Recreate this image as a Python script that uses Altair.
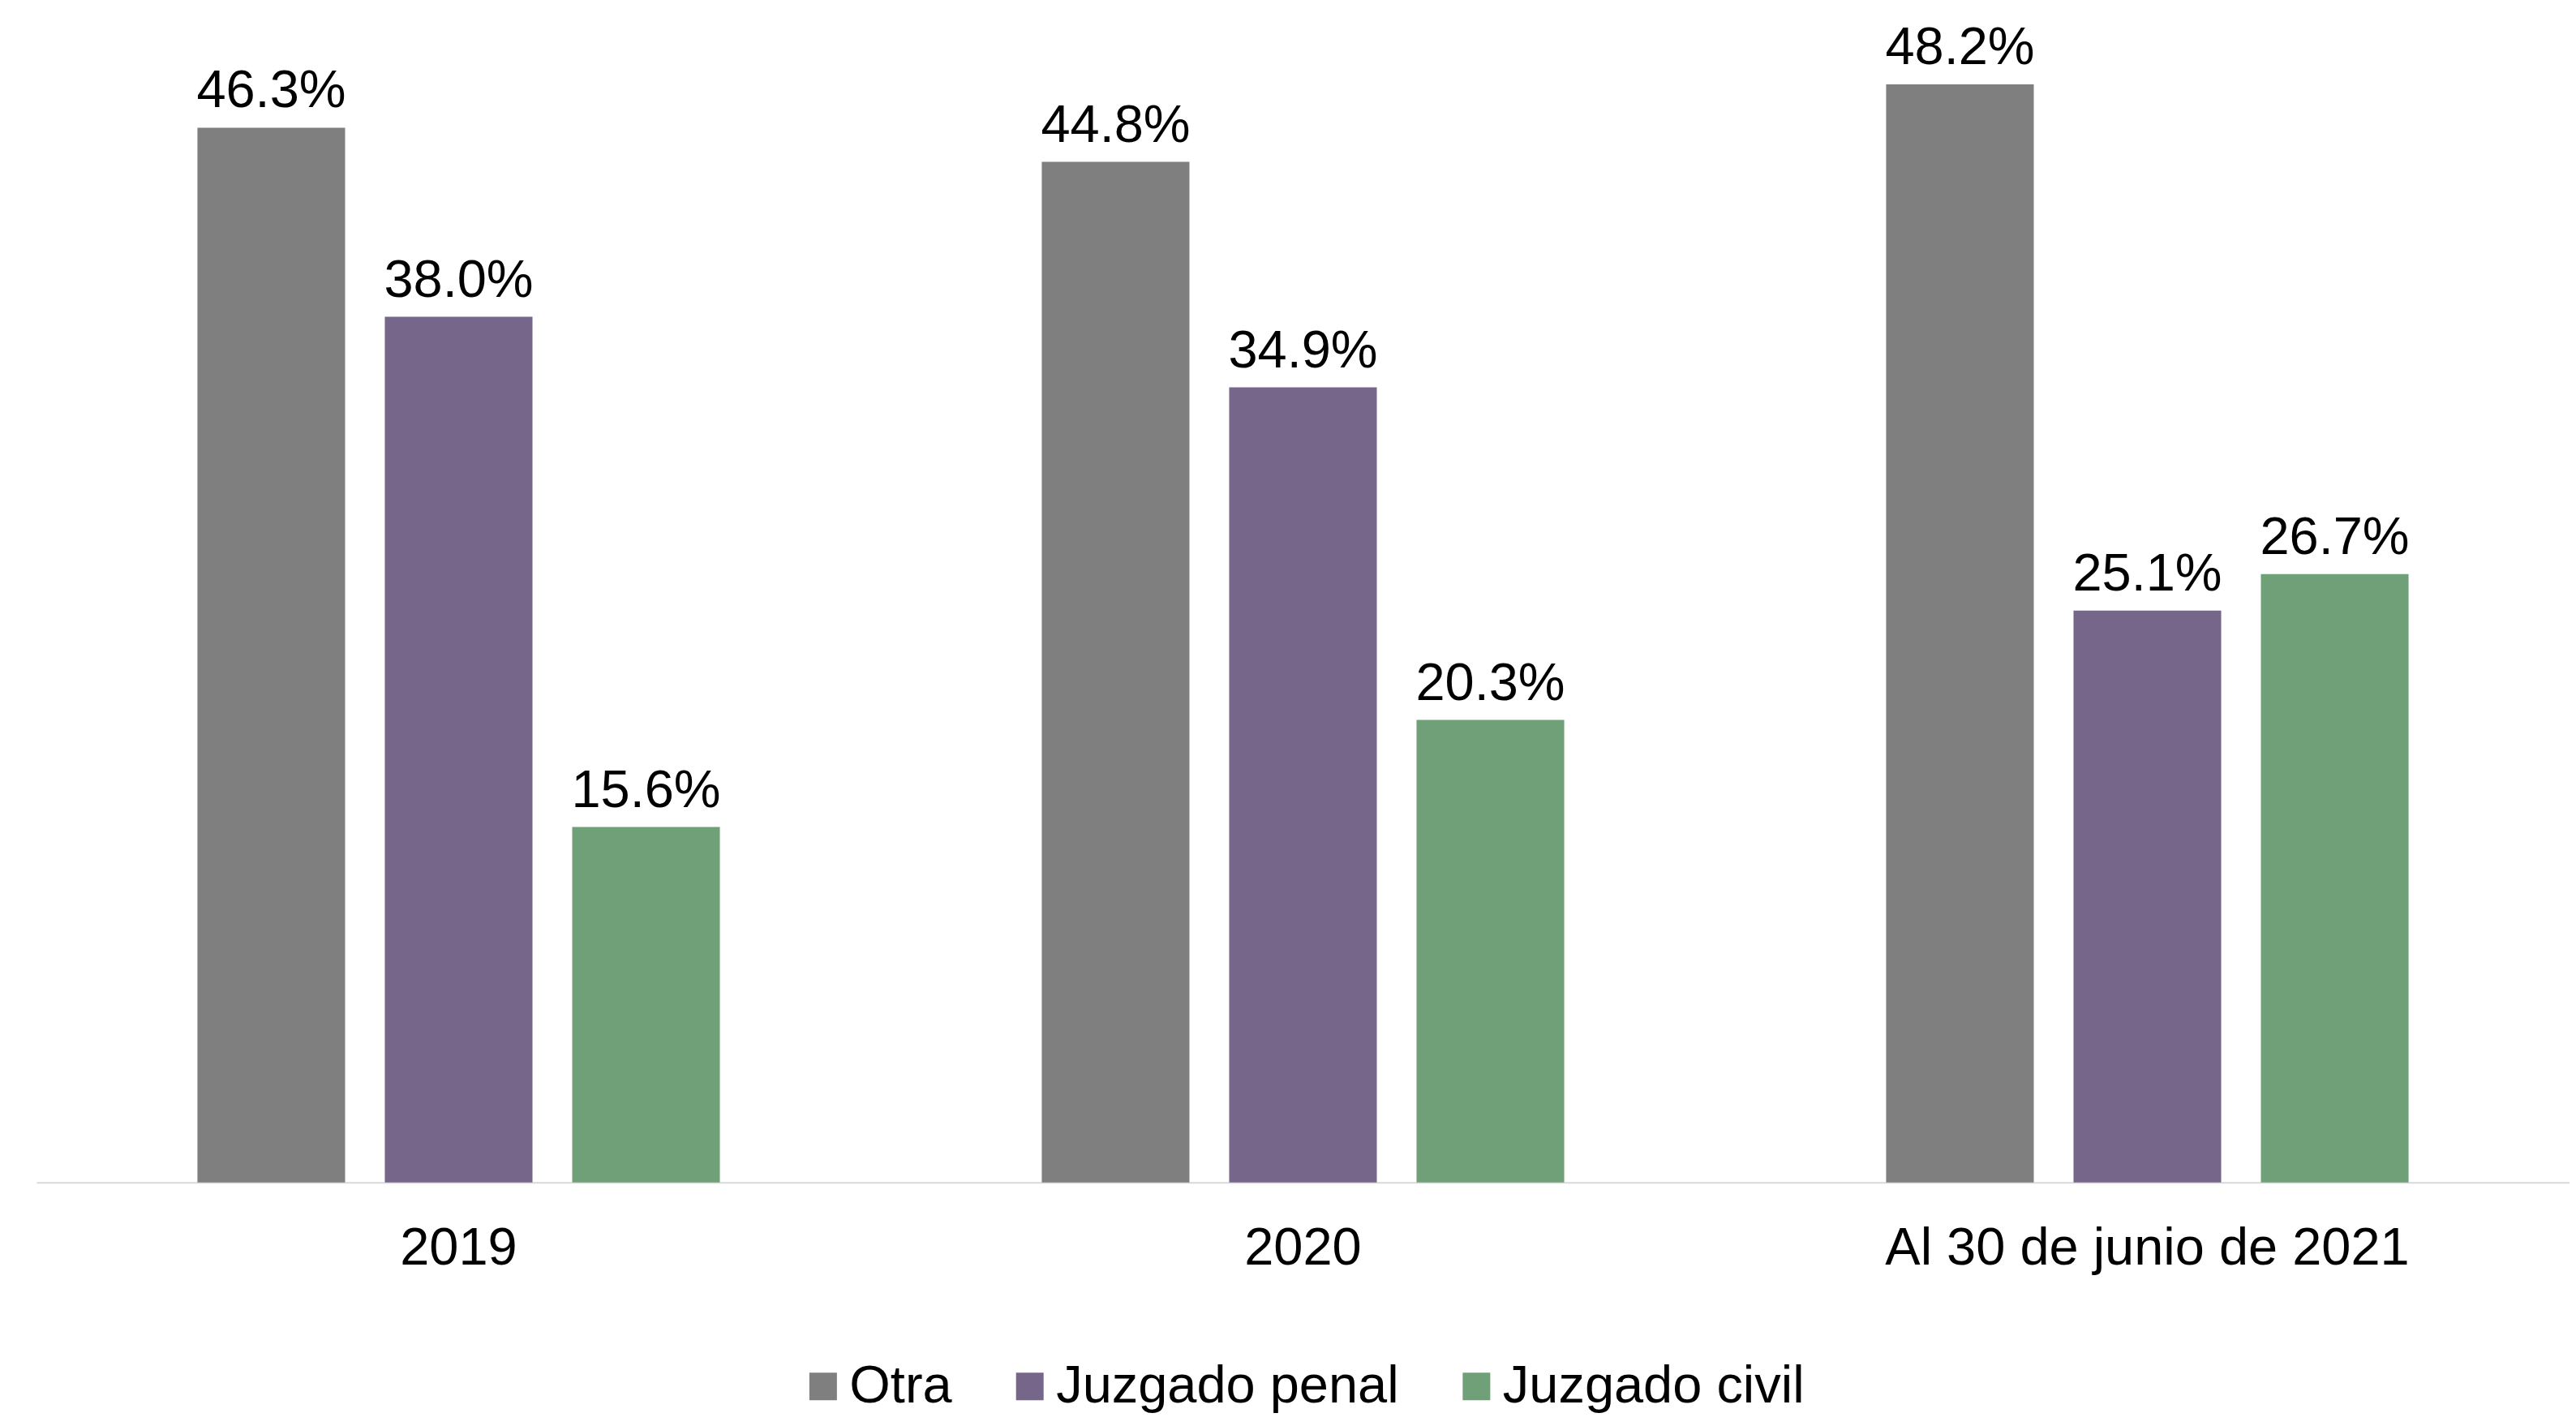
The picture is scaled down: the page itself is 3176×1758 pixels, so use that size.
import altair as alt
import pandas as pd

periods = ["2019", "2020", "Al 30 de junio de 2021"]
series = ["Otra", "Juzgado penal", "Juzgado civil"]
colors = ["#7f7f7f", "#76668a", "#70a078"]
otra = [46.3, 44.8, 48.2]
penal = [38.0, 34.9, 25.1]
civil = [15.6, 20.3, 26.7]

rows = []
for i, p in enumerate(periods):
    for s, vals in zip(series, [otra, penal, civil]):
        rows.append({"periodo": p, "serie": s, "valor": vals[i]})
df = pd.DataFrame(rows)

FONT = "Liberation Sans"

base = alt.Chart(df).encode(
    x=alt.X("periodo:N", sort=periods, title=None,
            scale=alt.Scale(paddingInner=0, paddingOuter=0),
            axis=alt.Axis(labelAngle=0, ticks=False, tickSize=0, labelPadding=50,
                          labelFontSize=65, labelFont=FONT, labelColor="#000000",
                          labelLimit=0,
                          domainColor="#d9d9d9", domainWidth=2, grid=False)),
    xOffset=alt.XOffset("serie:N", sort=series,
                        scale=alt.Scale(paddingInner=0.212, paddingOuter=0.859)),
    y=alt.Y("valor:Q", scale=alt.Scale(domain=[0, 50], nice=False), axis=None),
)

bars = base.mark_bar().encode(
    color=alt.Color("serie:N", sort=series,
                    scale=alt.Scale(domain=series, range=colors),
                    legend=alt.Legend(title=None, orient="none", legendX=938, legendY=1624,
                                      direction="horizontal", symbolType="square",
                                      symbolSize=1156, symbolStrokeWidth=0,
                                      labelFontSize=65, labelFont=FONT, labelColor="#000000",
                                      labelLimit=0,
                                      labelOffset=0, columnPadding=63, padding=0))
)

labels = base.transform_calculate(
    etiqueta="format(datum.valor, '.1f') + '%'"
).mark_text(baseline="alphabetic", align="center", dy=-25, fontSize=65,
            font=FONT, color="#000000").encode(text="etiqueta:N")

chart = (bars + labels).properties(
    width=3125, height=1405,
    autosize=alt.AutoSizeParams(type="none"),
    padding={"left": 37, "top": 45, "right": 0, "bottom": 290},
).configure_view(stroke=None)

chart.save("out.html", embed_options={"renderer": "svg", "actions": False})
